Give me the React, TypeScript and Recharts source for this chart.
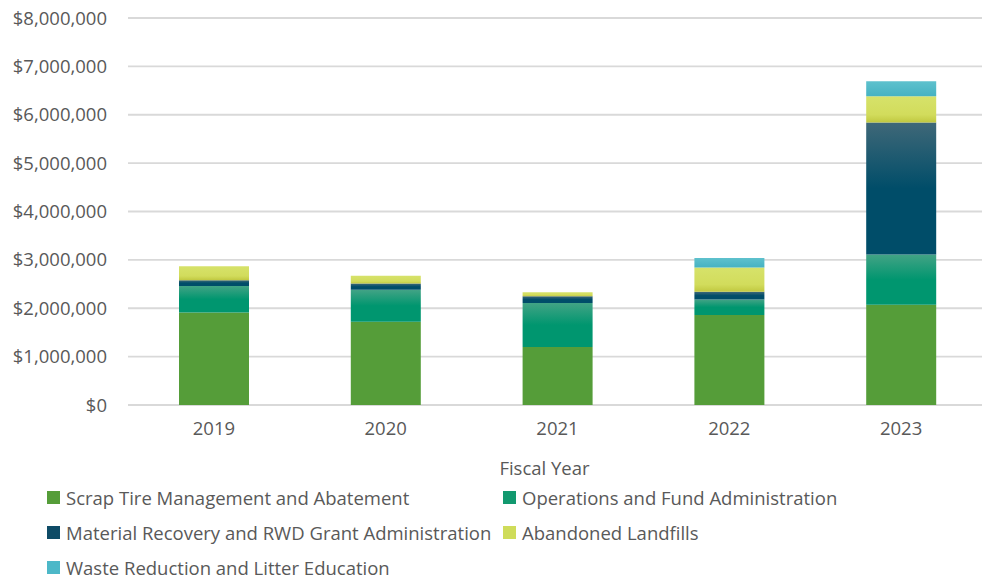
import React from 'react';
import { BarChart, Bar, XAxis, YAxis, CartesianGrid } from 'recharts';

const years = ['2019', '2020', '2021', '2022', '2023'];
const scrapTire = [1910000, 1720000, 1200000, 1860000, 2070000];
const operations = [550000, 660000, 910000, 320000, 1040000];
const materialRecovery = [120000, 130000, 140000, 160000, 2730000];
const landfills = [290000, 160000, 80000, 500000, 540000];
const wasteReduction = [0, 0, 0, 200000, 310000];
const yTicks = [0, 1000000, 2000000, 3000000, 4000000, 5000000, 6000000, 7000000, 8000000];

const series = [
  { key: 'scrap', name: 'Scrap Tire Management and Abatement', values: scrapTire, color: '#559D39', fill: 'url(#gScrap)' },
  { key: 'ops', name: 'Operations and Fund Administration', values: operations, color: '#12996F', fill: 'url(#gOps)' },
  { key: 'mat', name: 'Material Recovery and RWD Grant Administration', values: materialRecovery, color: '#0E4B66', fill: 'url(#gMat)' },
  { key: 'land', name: 'Abandoned Landfills', values: landfills, color: '#CFDC5A', fill: 'url(#gLand)' },
  { key: 'waste', name: 'Waste Reduction and Litter Education', values: wasteReduction, color: '#4DB8C8', fill: 'url(#gWaste)' },
];

const data = years.map((year, i) => {
  const row: Record<string, string | number> = { year };
  series.forEach((s) => {
    row[s.key] = s.values[i];
  });
  return row;
});

const fmt = (v: number) => '$' + v.toLocaleString('en-US');
const font = '"Open Sans", sans-serif';
const textColor = '#595959';

export default function App() {
  return (
    <div
      style={{
        position: 'absolute',
        left: 0,
        top: 0,
        width: 982,
        height: 577,
        overflow: 'hidden',
        background: '#fff',
        fontFamily: font,
      }}
    >
      <BarChart width={987} height={480} data={data} margin={{ top: 18, right: 0, left: 0, bottom: 0 }}>
        <defs>
          <linearGradient id="gScrap" x1="0" y1="0" x2="0" y2="1">
            <stop offset="0%" stopColor="#559D39" />
            <stop offset="100%" stopColor="#559D39" />
          </linearGradient>
          <linearGradient id="gOps" x1="0" y1="0" x2="0" y2="1">
            <stop offset="0%" stopColor="#42A385" />
            <stop offset="50%" stopColor="#00966F" />
            <stop offset="100%" stopColor="#00966F" />
          </linearGradient>
          <linearGradient id="gMat" x1="0" y1="0" x2="0" y2="1">
            <stop offset="0%" stopColor="#3F6878" />
            <stop offset="50%" stopColor="#004D69" />
            <stop offset="100%" stopColor="#004D69" />
          </linearGradient>
          <linearGradient id="gLand" x1="0" y1="0" x2="0" y2="1">
            <stop offset="0%" stopColor="#D6E26A" />
            <stop offset="70%" stopColor="#D2DC5C" />
            <stop offset="100%" stopColor="#C0C840" />
          </linearGradient>
          <linearGradient id="gWaste" x1="0" y1="0" x2="0" y2="1">
            <stop offset="0%" stopColor="#5EC1CD" />
            <stop offset="100%" stopColor="#45B2C2" />
          </linearGradient>
        </defs>
        <CartesianGrid vertical={false} stroke="#d9d9d9" strokeWidth={1.8} />
        <XAxis
          dataKey="year"
          height={75}
          tickSize={0}
          tickMargin={17}
          axisLine={false}
          tick={{ fill: textColor, fontSize: 18.5, fontFamily: font }}
          label={{ value: 'Fiscal Year', position: 'insideBottom', offset: 5, dx: -13, fill: textColor, fontSize: 18.5, fontFamily: font }}
        />
        <YAxis
          width={128}
          domain={[0, 8000000]}
          ticks={yTicks}
          tickFormatter={fmt}
          tickSize={0}
          tickMargin={21}
          axisLine={false}
          tick={{ fill: textColor, fontSize: 18.5, fontFamily: font }}
        />
        {series.map((s) => (
          <Bar key={s.key} dataKey={s.key} name={s.name} stackId="a" fill={s.fill} barSize={70} isAnimationActive={false} />
        ))}
      </BarChart>
      <div
        style={{
          position: 'absolute',
          left: 47,
          top: 480,
          display: 'grid',
          gridTemplateColumns: '456px 456px',
          gridAutoRows: '35px',
          fontSize: 18.5,
          lineHeight: '18px',
          color: textColor,
        }}
      >
        {series.map((s) => (
          <div key={s.key} style={{ display: 'flex', alignItems: 'center', whiteSpace: 'nowrap' }}>
            <span style={{ display: 'inline-block', width: 13, height: 13, background: s.color, marginRight: 6 }} />
            {s.name}
          </div>
        ))}
      </div>
    </div>
  );
}
